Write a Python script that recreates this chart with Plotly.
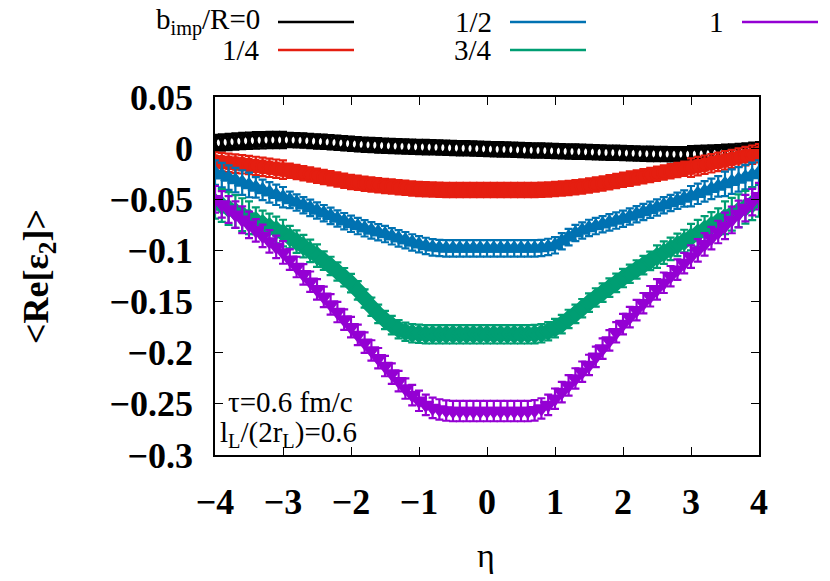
import plotly.graph_objects as go

eta = [-4.0, -3.9, -3.8, -3.7, -3.6, -3.5, -3.4, -3.3, -3.2, -3.1,
       -3.0, -2.9, -2.8, -2.7, -2.6, -2.5, -2.4, -2.3, -2.2, -2.1,
       -2.0, -1.9, -1.8, -1.7, -1.6, -1.5, -1.4, -1.3, -1.2, -1.1,
       -1.0, -0.9, -0.8, -0.7, -0.6, -0.5, -0.4, -0.3, -0.2, -0.1,
       0.0, 0.1, 0.2, 0.3, 0.4, 0.5, 0.6, 0.7, 0.8, 0.9,
       1.0, 1.1, 1.2, 1.3, 1.4, 1.5, 1.6, 1.7, 1.8, 1.9,
       2.0, 2.1, 2.2, 2.3, 2.4, 2.5, 2.6, 2.7, 2.8, 2.9,
       3.0, 3.1, 3.2, 3.3, 3.4, 3.5, 3.6, 3.7, 3.8, 3.9,
       4.0]

eps_b0 = [0.005, 0.0055, 0.006, 0.0065, 0.007, 0.0073, 0.0076, 0.0078, 0.008, 0.008,
          0.008, 0.0079, 0.0077, 0.0074, 0.007, 0.0066, 0.0062, 0.0057, 0.0052, 0.0047,
          0.0042, 0.0038, 0.0034, 0.003, 0.0027, 0.0024, 0.0021, 0.0018, 0.0016, 0.0014,
          0.0012, 0.001, 0.0008, 0.0006, 0.0004, 0.0002, 0.0, -0.0002, -0.0004, -0.0006,
          -0.0008, -0.001, -0.0012, -0.0014, -0.0016, -0.0018, -0.002, -0.0022, -0.0024, -0.0026,
          -0.0028, -0.003, -0.0032, -0.0034, -0.0036, -0.0038, -0.004, -0.0042, -0.0044, -0.0046,
          -0.0048, -0.005, -0.0052, -0.0054, -0.0056, -0.0057, -0.0058, -0.0059, -0.006, -0.006,
          -0.006, -0.0058, -0.0056, -0.0053, -0.005, -0.0046, -0.0042, -0.0037, -0.0032, -0.0027,
          -0.0022]

eps_b14 = [-0.013, -0.0137, -0.0144, -0.0151, -0.0158, -0.0165, -0.0174, -0.0183, -0.0192, -0.0201,
           -0.021, -0.0222, -0.0234, -0.0246, -0.0258, -0.027, -0.0282, -0.0294, -0.0306, -0.0318,
           -0.033, -0.0339, -0.0348, -0.0356, -0.0363, -0.037, -0.0376, -0.0382, -0.0388, -0.0394,
           -0.040, -0.0403, -0.0405, -0.0407, -0.0409, -0.041, -0.041, -0.041, -0.041, -0.041,
           -0.041, -0.041, -0.041, -0.041, -0.041, -0.041, -0.041, -0.0409, -0.0407, -0.0404,
           -0.040, -0.0395, -0.0389, -0.0382, -0.0375, -0.0366, -0.0356, -0.0345, -0.0334, -0.0322,
           -0.031, -0.0298, -0.0286, -0.0274, -0.0262, -0.025, -0.0238, -0.0226, -0.0214, -0.0202,
           -0.019, -0.0176, -0.0162, -0.0148, -0.0134, -0.012, -0.0106, -0.0092, -0.0078, -0.0064,
           -0.005]

eps_b12 = [-0.024, -0.0264, -0.0288, -0.0312, -0.0336, -0.036, -0.0384, -0.0408, -0.0432, -0.0456,
           -0.048, -0.0506, -0.0532, -0.0558, -0.0584, -0.061, -0.0636, -0.0662, -0.0688, -0.0714,
           -0.074, -0.0762, -0.0784, -0.0804, -0.0822, -0.084, -0.0862, -0.0882, -0.090, -0.0922,
           -0.094, -0.0956, -0.097, -0.0976, -0.098, -0.098, -0.098, -0.098, -0.098, -0.098,
           -0.098, -0.098, -0.098, -0.098, -0.098, -0.098, -0.098, -0.098, -0.0976, -0.0966,
           -0.095, -0.091, -0.087, -0.083, -0.0805, -0.078, -0.0762, -0.0744, -0.0726, -0.0708,
           -0.069, -0.0668, -0.0646, -0.0624, -0.0602, -0.058, -0.0558, -0.0536, -0.0514, -0.0492,
           -0.047, -0.0446, -0.0422, -0.0398, -0.0374, -0.035, -0.0328, -0.0306, -0.0284, -0.0262,
           -0.024]

eps_b34 = [-0.053, -0.056, -0.059, -0.062, -0.065, -0.068, -0.071, -0.074, -0.077, -0.080,
           -0.083, -0.087, -0.0914, -0.0958, -0.1004, -0.105, -0.110, -0.1152, -0.1206, -0.1262,
           -0.132, -0.139, -0.147, -0.155, -0.162, -0.168, -0.173, -0.177, -0.1795, -0.181,
           -0.1815, -0.182, -0.182, -0.182, -0.182, -0.182, -0.182, -0.182, -0.182, -0.182,
           -0.182, -0.182, -0.182, -0.182, -0.182, -0.182, -0.182, -0.1818, -0.181, -0.179,
           -0.176, -0.172, -0.167, -0.162, -0.1565, -0.151, -0.146, -0.1412, -0.1364, -0.1317,
           -0.127, -0.1228, -0.1186, -0.1144, -0.1102, -0.106, -0.1022, -0.0984, -0.0946, -0.0908,
           -0.087, -0.0832, -0.0794, -0.0756, -0.0718, -0.068, -0.0646, -0.0612, -0.0578, -0.0544,
           -0.051]

eps_b1 = [-0.050, -0.055, -0.060, -0.065, -0.070, -0.075, -0.0803, -0.0858, -0.0912, -0.0966,
          -0.102, -0.109, -0.1162, -0.1234, -0.1306, -0.138, -0.1454, -0.1528, -0.1602, -0.1676,
          -0.175, -0.1826, -0.1902, -0.1978, -0.2054, -0.213, -0.2204, -0.2278, -0.235, -0.2414,
          -0.247, -0.251, -0.254, -0.2555, -0.2565, -0.257, -0.257, -0.257, -0.257, -0.257,
          -0.257, -0.257, -0.257, -0.257, -0.257, -0.257, -0.257, -0.2563, -0.2545, -0.251,
          -0.245, -0.2385, -0.232, -0.2252, -0.2186, -0.212, -0.204, -0.196, -0.188, -0.180,
          -0.172, -0.1652, -0.1584, -0.1516, -0.1448, -0.138, -0.1316, -0.1252, -0.1188, -0.1124,
          -0.106, -0.100, -0.094, -0.088, -0.082, -0.076, -0.0702, -0.0644, -0.0586, -0.0528,
          -0.047]

err_b0 = [0.008] * 11 + [0.007] * 59 + [0.008] * 11
err_b14 = [0.009] * 11 + [0.007] * 59 + [0.009] * 11
err_b12 = [0.012] * 6 + [0.010] * 5 + [0.008] * 59 + [0.010] * 5 + [0.012] * 6
err_b34 = [0.016] * 6 + [0.013] * 5 + [0.011] * 5 + [0.009] * 49 + [0.011] * 5 + [0.013] * 5 + [0.016] * 6
err_b1 = [0.013] * 6 + [0.011] * 5 + [0.010] * 59 + [0.011] * 5 + [0.013] * 6

series_names = ["b<sub>imp</sub>/R=0", "1/4", "1/2", "3/4", "1"]
series_vals = [eps_b0, eps_b14, eps_b12, eps_b34, eps_b1]
series_errs = [err_b0, err_b14, err_b12, err_b34, err_b1]
colors = ["#000000", "#e51e10", "#0072b2", "#009e73", "#9400d3"]
symbols = ["circle-open", "circle", "triangle-up", "diamond", "triangle-down"]
marker_lw = [3, 2, 2, 2, 2]

x_ticks = [-4, -3, -2, -1, 0, 1, 2, 3, 4]
x_ticktext = ["\u22124", "\u22123", "\u22122", "\u22121", "0", "1", "2", "3", "4"]
y_ticks = [0.05, 0, -0.05, -0.1, -0.15, -0.2, -0.25, -0.3]
y_ticktext = ["0.05", "0", "\u22120.05", "\u22120.1", "\u22120.15", "\u22120.2", "\u22120.25", "\u22120.3"]

FONT = "Liberation Serif"

fig = go.Figure()
for name, vals, errs, col, sym, lw in zip(series_names, series_vals, series_errs, colors, symbols, marker_lw):
    fig.add_trace(go.Scatter(
        x=eta, y=vals, mode="markers", name=name, showlegend=False,
        marker=dict(symbol=sym, size=13, color=col, line=dict(color=col, width=lw)),
        error_y=dict(type="data", array=errs, visible=True, color=col, thickness=2.2, width=4),
    ))

# manual gnuplot-style legend (text right-aligned, then line sample)
L0, T0 = 215, 97
PW, PH = 544, 358
def px(x):
    return (x - L0) / PW
def py(y):
    return (T0 + PH - y) / PH

legend_slots = [(262, 22), (262, 50), (494, 22), (494, 50), (726, 22)]
for (name, col), (tx, ty) in zip(zip(series_names, colors), legend_slots):
    fig.add_annotation(x=px(tx), y=py(ty), xref="paper", yref="paper", text=name,
                       showarrow=False, xanchor="right", yanchor="middle",
                       font=dict(family=FONT, size=29, color="black"))
    fig.add_shape(type="line", xref="paper", yref="paper",
                  x0=px(tx + 16), x1=px(tx + 92), y0=py(ty), y1=py(ty),
                  line=dict(color=col, width=2.5))

fig.add_annotation(x=px(226), y=py(402), xref="paper", yref="paper", text="\u03c4=0.6 fm/c",
                   showarrow=False, xanchor="left", yanchor="middle",
                   font=dict(family=FONT, size=29, color="black"))
fig.add_annotation(x=px(218), y=py(434), xref="paper", yref="paper",
                   text="l<sub>L</sub>/(2r<sub>L</sub>)=0.6",
                   showarrow=False, xanchor="left", yanchor="middle",
                   font=dict(family=FONT, size=29, color="black"))

# axis titles
fig.add_annotation(x=px(38), y=py(277), xref="paper", yref="paper",
                   text="<b>&lt;Re[\u03b5<sub>2</sub>]&gt;</b>", textangle=-90,
                   showarrow=False, xanchor="center", yanchor="middle",
                   font=dict(family=FONT, size=36, color="black"))
fig.add_annotation(x=px(486), y=py(555), xref="paper", yref="paper", text="\u03b7",
                   showarrow=False, xanchor="center", yanchor="middle",
                   font=dict(family=FONT, size=34, color="black"))

axis_common = dict(showline=True, linecolor="black", linewidth=1.5, mirror="ticks",
                   ticks="inside", ticklen=8, tickwidth=1, tickcolor="black",
                   showgrid=False, zeroline=False, automargin=False,
                   tickfont=dict(family=FONT, size=36, color="black", weight="bold"))

fig.update_xaxes(range=[-4, 4], tickmode="array", tickvals=x_ticks, ticktext=x_ticktext,
                 ticklabelstandoff=14, **axis_common)
fig.update_yaxes(range=[-0.3, 0.05], tickmode="array", tickvals=y_ticks, ticktext=y_ticktext,
                 ticklabelstandoff=13, **axis_common)

fig.update_layout(width=830, height=581, margin=dict(l=215, r=71, t=97, b=126),
                  plot_bgcolor="white", paper_bgcolor="white", showlegend=False,
                  font=dict(family=FONT))

fig.write_html("out.html", config={"displayModeBar": False},
               post_script="document.body.style.margin='0px';")
